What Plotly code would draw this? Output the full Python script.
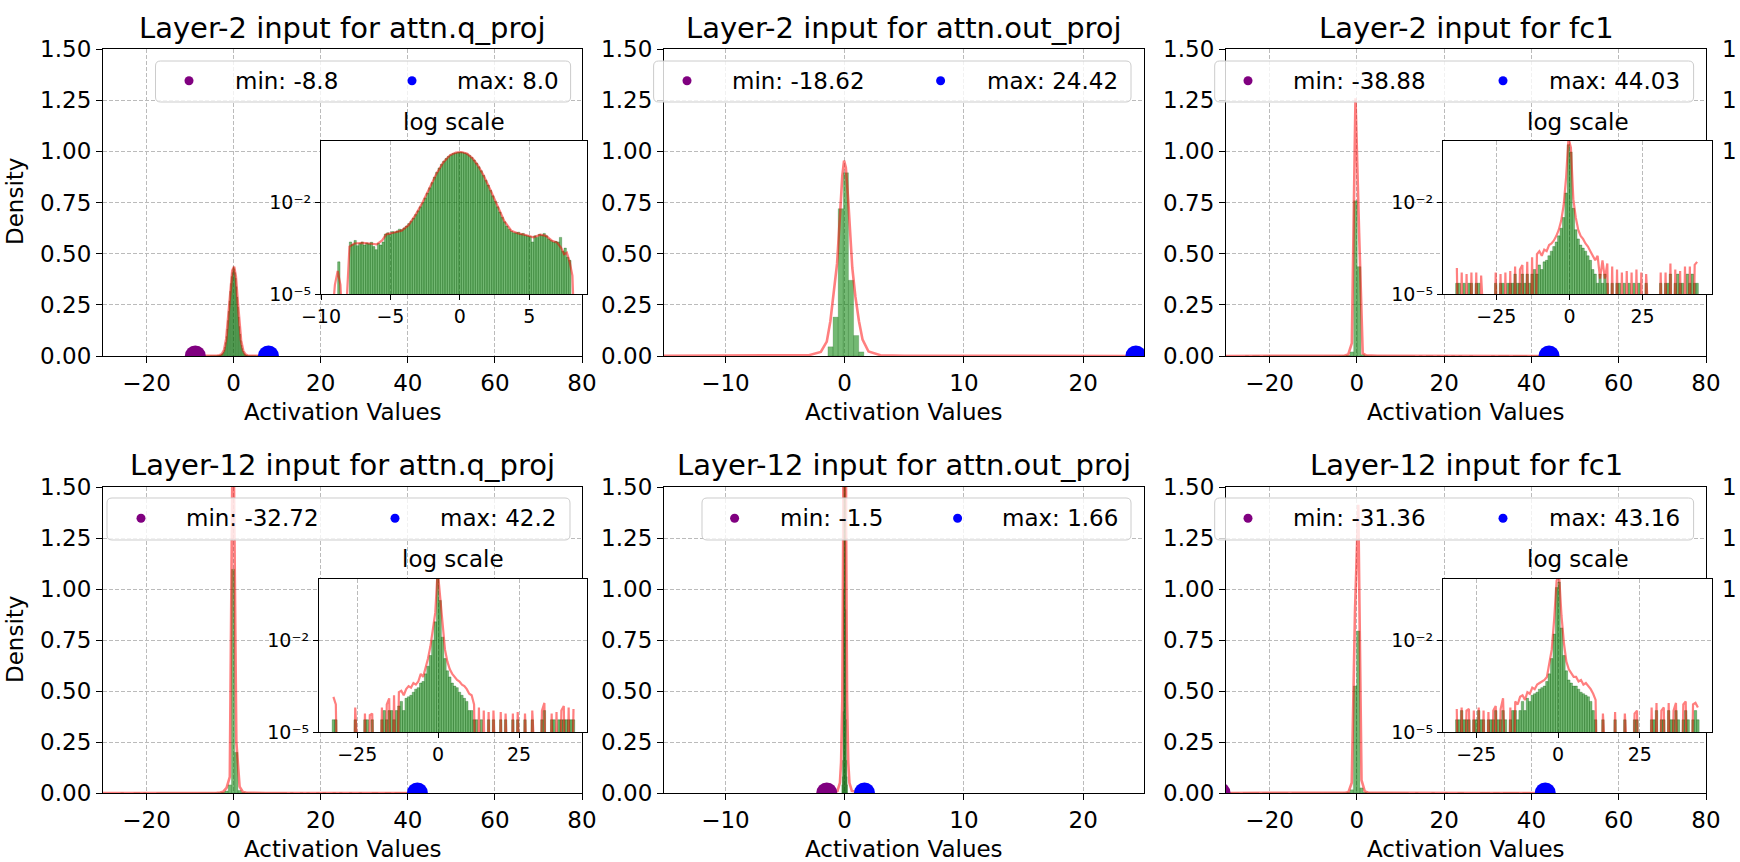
import numpy as np
import plotly.graph_objects as go

W, H = 1740, 862
FONT = "DejaVu Sans"

# ---------------- data ----------------
titles = ["Layer-2 input for attn.q_proj", "Layer-2 input for attn.out_proj", "Layer-2 input for fc1",
          "Layer-12 input for attn.q_proj", "Layer-12 input for attn.out_proj", "Layer-12 input for fc1"]
act_min = [-8.8, -18.62, -38.88, -32.72, -1.5, -31.36]
act_max = [8.0, 24.42, 44.03, 42.2, 1.66, 43.16]
N_BINS = 100

x_label = "Activation Values"
y_label = "Density"
inset_title = "log scale"
main_yticks = [0, 0.25, 0.5, 0.75, 1.0, 1.25, 1.5]
xticks_wide = [-20, 0, 20, 40, 60, 80]
xticks_narrow = [-10, 0, 10, 20]
inset_yticks = [1e-5, 1e-2]
inset_ytick_text = ["10\u207b\u2075", "10\u207b\u00b2"]
inset_xticks_q2 = [-10, -5, 0, 5]
inset_xticks_wide = [-25, 0, 25]

# histogram densities (log10), one per bin (None = empty bin)
q2_hist_log = [
    -3.95, None, None, None, None, -3.30, -3.38, -3.25, -3.42, -3.35,
    -3.30, -3.40, -3.33, -3.36, -3.31, -3.45, -3.55, -3.35, -3.40, -3.30,
    -3.04, -3.00, -3.05, -2.96, -2.98, -2.94, -2.88, -2.90, -2.84, -2.78,
    -2.70, -2.62, -2.52, -2.40, -2.28, -2.15, -2.01, -1.86, -1.70, -1.53,
    -1.36, -1.18, -1.02, -0.88, -0.76, -0.66, -0.57, -0.50, -0.45, -0.41,
    -0.39, -0.37, -0.36, -0.37, -0.39, -0.42, -0.47, -0.54, -0.62, -0.72,
    -0.84, -0.97, -1.12, -1.28, -1.44, -1.61, -1.79, -1.97, -2.15, -2.32,
    -2.49, -2.64, -2.78, -2.88, -2.95, -3.00, -3.00, -2.98, -3.04, -3.02,
    -3.08, -3.10, -3.12, -3.30, -3.10, -3.15, -3.05, -3.08, -3.02, -3.10,
    -3.20, -3.25, -3.30, -3.28, -3.30, -3.15, -3.60, -3.50, -3.80, -3.90]

fc2_hist_log = [
    -4.65, -4.65, None, -4.65, None, -4.65, -4.65, None, -4.65, -4.65,
    None, None, None, None, None, None, -4.65, None, -4.65, -4.65,
    None, -4.65, -4.65, -4.65, -4.35, -4.65, -4.65, -4.35, -4.65, -4.35,
    -4.65, -4.35, -4.20, -4.35, -4.05, -4.20, -3.95, -3.90, -3.75, -3.60,
    -3.45, -3.30, -3.10, -2.85, -2.50, -1.70, -0.12, -0.36, -2.20, -2.90,
    -3.20, -3.40, -3.50, -3.60, -3.75, -3.90, -4.20, -4.35, -4.65, -4.35,
    -4.65, -4.35, -4.65, None, -4.65, None, -4.65, -4.65, None, -4.65,
    None, -4.65, None, -4.65, None, -4.65, None, None, -4.65, None,
    None, None, None, None, -4.65, None, -4.65, -4.65, -4.35, None,
    -4.65, -4.35, -4.65, -4.65, None, -4.35, -4.65, -4.35, -4.65, -4.65]

q12_hist_log = [
    -4.6, -4.6, None, None, None, None, None, None, None, -4.6,
    None, None, None, -4.6, -4.6, None, -4.6, None, None, None,
    -4.6, -4.3, -4.6, -4.3, -4.3, -4.6, -4.3, -4.15, -4.0, -4.3,
    -3.9, -3.85, -3.8, -3.7, -3.6, -3.55, -3.4, -3.35, -3.1, -2.85,
    -2.5, -2.0, -1.4, 0.04, -0.7, -1.9, -2.6, -3.0, -3.2, -3.4,
    -3.5, -3.55, -3.7, -3.8, -3.9, -4.0, -4.3, -4.3, -4.6, -4.6,
    None, -4.6, None, None, -4.6, None, -4.6, None, None, -4.6,
    None, -4.6, None, None, -4.6, None, -4.6, None, None, -4.6,
    None, None, -4.6, None, None, None, -4.6, -4.3, None, None,
    -4.6, -4.6, None, -4.6, -4.6, -4.6, -4.6, -4.6, -4.6, -4.6]

fc12_hist_log = [
    -4.6, -4.6, -4.3, -4.6, -4.6, -4.6, None, -4.6, -4.6, -4.3,
    -4.6, -4.6, None, -4.6, -4.6, -4.6, -4.3, -4.6, -4.6, -4.3,
    -4.6, None, -4.6, -4.3, -4.3, -4.6, -4.3, -4.0, -4.3, -3.9,
    -4.0, -3.8, -3.75, -3.7, -3.6, -3.55, -3.5, -3.35, -3.1, -2.6,
    -1.8, -0.28, -0.1, -1.6, -2.5, -3.0, -3.3, -3.4, -3.5, -3.5,
    -3.6, -3.7, -3.75, -3.8, -3.85, -4.0, -4.3, -4.6, None, None,
    -4.6, None, None, None, None, -4.6, None, None, None, -4.6,
    None, None, None, -4.6, -4.6, None, None, None, None, None,
    -4.6, -4.6, -4.3, None, -4.6, -4.6, None, -4.3, -4.6, -4.6,
    -4.3, -4.6, None, -4.6, -4.3, -4.6, None, -4.6, -4.3, -4.6]

# panels without inset: only the visible central bins (linear density)
out2_first_bin = 40
out2_hist = [0.045, 0.19, 0.72, 0.895, 0.37, 0.10, 0.02]
out12_first_bin = 40
out12_hist = [0.04, 0.08, 0.16, 0.4, 1.0, 2.8, 6.5, 11.0, 6.0, 2.6, 0.9, 0.36, 0.16, 0.08, 0.04]

# KDE curves
q2_kde_x = [-9.4, -9.0, -8.8, -8.6, -8.35, -8.1, -7.95, -7.6, -7.0, -6.5, -6.0, -5.6, -5.3, -4.8, -4.2,
            -3.7, -3.2, -2.7, -2.2, -1.7, -1.2, -0.7, -0.3, 0.1, 0.5, 0.9, 1.3, 1.7, 2.2, 2.7,
            3.2, 3.7, 4.2, 4.8, 5.3, 5.8, 6.2, 6.6, 7.0, 7.3, 7.5, 7.7, 7.9, 8.1, 8.3]
q2_kde_log = [-7, -4.7, -4.25, -4.7, -7, -4.5, -3.45, -3.35, -3.33, -3.35, -3.38, -3.25, -3.05, -3.0, -2.93,
              -2.75, -2.42, -2.02, -1.55, -1.08, -0.7, -0.46, -0.38, -0.36, -0.41, -0.56, -0.8, -1.12, -1.6, -2.12,
              -2.62, -2.93, -3.02, -3.08, -3.15, -3.06, -3.1, -3.25, -3.32, -3.5, -3.7, -3.65, -3.95, -4.4, -7]

out2_kde_x = [-18.62, -5, -3, -2, -1.5, -1.2, -0.9, -0.64, -0.4, -0.2, -0.05, 0.1, 0.3, 0.64, 0.9, 1.2, 1.5, 2, 3, 5, 24.42]
out2_kde_y = [0.0, 0.001, 0.004, 0.02, 0.07, 0.17, 0.31, 0.45, 0.68, 0.88, 0.955, 0.92, 0.76, 0.43, 0.29, 0.17,
              0.08, 0.022, 0.004, 0.001, 0.0]

out12_kde_x = [-1.5, -0.6, -0.4, -0.3, -0.2, -0.12, -0.06, 0.0, 0.06, 0.12, 0.2, 0.3, 0.4, 0.6, 1.66]
out12_kde_y = [0.0, 0.01, 0.05, 0.15, 0.45, 1.3, 3.0, 4.2, 3.0, 1.3, 0.45, 0.15, 0.05, 0.01, 0.0]

# spiky KDEs sampled at the bin centres (log10; -9 = far below the axis)
fc2_kde_log = [
    -4.15, -9, -4.3, -9, -4.35, -9, -4.3, -9, -4.3, -9,
    -4.4, -9, -9, -9, -9, -9, -4.3, -9, -4.35, -9,
    -4.3, -9, -4.25, -9, -4.1, -9, -4.2, -4.05, -9, -3.95,
    -9, -3.8, -9, -3.7, -3.6, -3.75, -3.55, -3.6, -3.4, -3.35,
    -3.25, -3.1, -2.9, -2.6, -2.1, -1.2, 0.1, -0.22, -1.9, -2.5,
    -2.9, -3.1, -3.2, -3.35, -3.45, -3.6, -3.75, -3.9, -3.75, -4.5,
    -3.9, -4.5, -4.0, -9, -4.1, -9, -4.2, -9, -4.3, -9,
    -4.25, -9, -4.3, -9, -4.2, -9, -4.3, -9, -4.35, -9,
    -9, -9, -9, -9, -4.3, -9, -4.3, -9, -4.0, -9,
    -4.2, -9, -4.25, -9, -4.1, -9, -4.1, -9, -4.05, -3.95]

q12_kde_log = [
    -3.85, -4.1, -9, -9, -9, -9, -9, -9, -9, -4.2,
    -9, -9, -9, -4.4, -9, -4.45, -4.4, -9, -9, -9,
    -4.2, -9, -4.1, -3.9, -9, -3.8, -9, -3.7, -3.65, -3.8,
    -3.6, -3.5, -3.55, -3.4, -3.45, -3.35, -3.1, -3.2, -2.9, -2.6,
    -2.2, -1.6, -1.1, 0.3, -0.6, -1.5, -2.3, -2.7, -2.95, -3.1,
    -3.2, -3.3, -3.35, -3.45, -3.5, -3.6, -3.75, -3.8, -4.1, -9,
    -4.2, -9, -4.3, -9, -4.35, -9, -4.3, -9, -9, -4.35,
    -9, -4.4, -9, -9, -4.4, -9, -4.35, -9, -9, -4.4,
    -9, -9, -4.3, -9, -9, -9, -4.3, -4.05, -9, -9,
    -4.4, -9, -4.35, -9, -4.3, -4.15, -9, -4.2, -9, -4.25]

fc12_kde_log = [
    -4.25, -9, -4.2, -9, -4.3, -4.25, -9, -4.3, -9, -4.2,
    -9, -4.3, -9, -4.35, -9, -4.3, -4.15, -9, -4.25, -3.9,
    -9, -9, -4.2, -9, -4.0, -4.1, -3.85, -3.8, -3.95, -3.7,
    -3.75, -3.55, -3.6, -3.45, -3.4, -3.35, -3.3, -3.2, -2.8, -2.3,
    -1.3, -0.05, 0.15, -1.2, -2.1, -2.7, -2.95, -3.1, -3.2, -3.2,
    -3.35, -3.3, -3.45, -3.4, -3.5, -3.6, -3.75, -3.95, -9, -9,
    -4.4, -9, -9, -9, -9, -4.35, -9, -9, -9, -4.4,
    -9, -9, -9, -4.4, -4.3, -9, -9, -9, -9, -9,
    -4.2, -9, -4.05, -9, -4.3, -4.2, -9, -4.05, -9, -4.3,
    -4.05, -9, -9, -4.1, -4.0, -9, -9, -4.1, -4.05, -4.2]

hist_log = {0: q2_hist_log, 2: fc2_hist_log, 3: q12_hist_log, 5: fc12_hist_log}
hist_lin = {1: (out2_first_bin, out2_hist), 4: (out12_first_bin, out12_hist)}
kde_at_bins = {2: fc2_kde_log, 3: q12_kde_log, 5: fc12_kde_log}
kde_xy = {0: (q2_kde_x, [10 ** v for v in q2_kde_log]), 1: (out2_kde_x, out2_kde_y), 4: (out12_kde_x, out12_kde_y)}

# ---------------- geometry (pixels) ----------------
main_box = [(103, 582, 49, 356), (664, 1144, 49, 356), (1226, 1706, 49, 356),
            (103, 582, 487, 793), (664, 1144, 487, 793), (1226, 1706, 487, 793)]
main_xrange = [(-30, 80), (-15.15, 25.1), (-30, 80), (-30, 80), (-15.15, 25.1), (-30, 80)]
inset_order = [0, 2, 3, 5]
inset_box = {0: (321, 587, 141, 294), 2: (1443, 1712, 141, 294), 3: (319, 587, 579, 732), 5: (1443, 1712, 579, 732)}
inset_xrange = {0: (-10, 9.15), 2: (-43.2, 48.7), 3: (-36.8, 46.0), 5: (-35.2, 47.1)}
# legend boxes (left, top, right, bottom), marker centres and text starts
legend_box = [(155.5, 61, 570.6, 102), (653.6, 61, 1131, 102), (1214.7, 61, 1693.6, 102),
              (107, 498, 570, 540), (702, 498, 1131, 540), (1214.7, 498, 1693.6, 540)]
legend_mark_x = [(189, 412), (687, 940.6), (1248, 1503), (141, 395), (734.6, 957.6), (1248, 1503)]
legend_text_x = [(233.6, 456), (731, 985.5), (1292, 1548), (185, 439.5), (778.5, 1001), (1292, 1548)]
legend_cy = [80.7, 80.7, 80.7, 518.3, 518.3, 518.3]

GREEN = "rgba(0,128,0,0.55)"
GREEN_EDGE = "rgba(0,85,0,0.6)"
RED = "rgba(255,0,0,0.5)"
GRID = "#bbbbbb"
PURPLE = "#800080"
BLUE = "#0000ff"


def px(x):
    return x / W


def py(y):
    return 1 - y / H


def sfx(n):
    return "" if n == 1 else str(n)


def rounded_rect(x0, y0, x1, y1, r):
    pts = [("M", x0 + r, y0), ("L", x1 - r, y0), ("Q", x1, y0, x1, y0 + r), ("L", x1, y1 - r),
           ("Q", x1, y1, x1 - r, y1), ("L", x0 + r, y1), ("Q", x0, y1, x0, y1 - r), ("L", x0, y0 + r),
           ("Q", x0, y0, x0 + r, y0)]
    out = []
    for p in pts:
        cmd, vals = p[0], p[1:]
        coords = []
        for k in range(0, len(vals), 2):
            coords.append(f"{px(vals[k]):.6f},{py(vals[k + 1]):.6f}")
        out.append(cmd + " ".join(coords))
    return " ".join(out) + " Z"


fig = go.Figure()
layout = dict(width=W, height=H, margin=dict(l=0, r=0, t=0, b=0), paper_bgcolor="white",
              plot_bgcolor="white", barmode="overlay", showlegend=False,
              font=dict(family=FONT, color="black", size=23))
annotations = []
shapes = []


def axis_style(size, ticklen):
    return dict(ticks="outside", ticklen=ticklen, tickwidth=1.2, tickcolor="black", showline=True,
                linecolor="black", linewidth=1.2, mirror=True, showgrid=True, gridcolor=GRID,
                griddash="4px,2px", gridwidth=1, zeroline=False, fixedrange=True, automargin=False,
                tickfont=dict(family=FONT, size=size, color="black"))


def text_ann(text, x, y, size, xanchor="center", angle=0):
    return dict(text=text, x=px(x), y=py(y), xref="paper", yref="paper", showarrow=False,
                xanchor=xanchor, yanchor="middle", textangle=angle, borderpad=0,
                font=dict(family=FONT, size=size, color="black"))


for i in range(6):
    n = i + 1
    xr, yr = "x" + sfx(n), "y" + sfx(n)
    l, r, t, b = main_box[i]
    edges = np.linspace(act_min[i], act_max[i], N_BINS + 1)
    centers = 0.5 * (edges[:-1] + edges[1:])
    bw = float(edges[1] - edges[0])

    if i in hist_log:
        hx = [float(c) for c, v in zip(centers, hist_log[i]) if v is not None]
        hy = [10 ** v for v in hist_log[i] if v is not None]
    else:
        start, vals = hist_lin[i]
        hx = [float(c) for c in centers[start:start + len(vals)]]
        hy = list(vals)
    if i in kde_at_bins:
        kx = [float(c) for c in centers]
        ky = [10 ** v for v in kde_at_bins[i]]
    else:
        kx, ky = kde_xy[i]

    # main panel
    fig.add_trace(go.Bar(x=hx, y=hy, width=bw, xaxis=xr, yaxis=yr, hoverinfo="skip",
                         marker=dict(color=GREEN, line=dict(color=GREEN_EDGE, width=0.3))))
    fig.add_trace(go.Scatter(x=kx, y=ky, mode="lines", xaxis=xr, yaxis=yr, hoverinfo="skip",
                             line=dict(color=RED, width=2.6)))
    fig.add_trace(go.Scatter(x=[act_min[i]], y=[0], mode="markers", xaxis=xr, yaxis=yr,
                             name=f"min: {act_min[i]}", cliponaxis=True, marker=dict(size=21, color=PURPLE)))
    fig.add_trace(go.Scatter(x=[act_max[i]], y=[0], mode="markers", xaxis=xr, yaxis=yr,
                             name=f"max: {act_max[i]}", cliponaxis=True, marker=dict(size=21, color=BLUE)))

    xa = axis_style(23, 6)
    xa.update(domain=[px(l), px(r)], anchor=yr, range=list(main_xrange[i]), tickmode="array",
              tickvals=xticks_narrow if i in (1, 4) else xticks_wide)
    ya = axis_style(23, 6)
    ya.update(domain=[py(b), py(t)], anchor=xr, range=[0, 1.5], tickmode="array",
              tickvals=main_yticks, tickformat=".2f")
    layout["xaxis" + sfx(n)] = xa
    layout["yaxis" + sfx(n)] = ya

    cx = (l + r) / 2
    annotations.append(text_ann(titles[i], cx, 28 if i < 3 else 465, 29))
    annotations.append(text_ann(x_label, cx, 412 if i < 3 else 849, 23))

    # legend (box, markers, labels)
    bx0, by0, bx1, by1 = legend_box[i]
    shapes.append(dict(type="path", path=rounded_rect(bx0, by0, bx1, by1, 5), xref="paper", yref="paper",
                       fillcolor="rgba(255,255,255,0.8)", line=dict(color="#cccccc", width=1), layer="above"))
    cy = legend_cy[i]
    for mx, col in zip(legend_mark_x[i], (PURPLE, BLUE)):
        shapes.append(dict(type="circle", xref="paper", yref="paper", x0=px(mx - 4.5), x1=px(mx + 4.5),
                           y0=py(cy + 4.5), y1=py(cy - 4.5), fillcolor=col, line=dict(width=0), layer="above"))
    annotations.append(text_ann(f"min: {act_min[i]}", legend_text_x[i][0], cy, 23, xanchor="left"))
    annotations.append(text_ann(f"max: {act_max[i]}", legend_text_x[i][1], cy, 23, xanchor="left"))

    # inset
    if i in inset_box:
        m = 7 + inset_order.index(i)
        ixr, iyr = "x" + sfx(m), "y" + sfx(m)
        il, ir, it, ib = inset_box[i]
        fig.add_trace(go.Bar(x=hx, y=hy, width=bw, xaxis=ixr, yaxis=iyr, hoverinfo="skip",
                             marker=dict(color=GREEN, line=dict(color=GREEN_EDGE, width=0.5))))
        fig.add_trace(go.Scatter(x=kx, y=ky, mode="lines", xaxis=ixr, yaxis=iyr, hoverinfo="skip",
                                 line=dict(color=RED, width=2.2)))
        ixa = axis_style(19, 5)
        ixa.update(domain=[px(il), px(ir)], anchor=iyr, range=list(inset_xrange[i]), tickmode="array",
                   tickvals=inset_xticks_q2 if i == 0 else inset_xticks_wide)
        iya = axis_style(19, 5)
        iya.update(domain=[py(ib), py(it)], anchor=ixr, type="log", range=[-5, 0], tickmode="array",
                   tickvals=inset_yticks, ticktext=inset_ytick_text)
        layout["xaxis" + sfx(m)] = ixa
        layout["yaxis" + sfx(m)] = iya
        annotations.append(text_ann(inset_title, (il + ir) / 2, 122 if i < 3 else 559, 23))

# y-axis titles at the left border and cut-off tick labels at the right border
for yc in (202, 640):
    annotations.append(text_ann(y_label, 15, yc, 23, angle=-90))
for yc in (49, 100, 151, 487, 538, 589):
    annotations.append(text_ann("1", 1729, yc, 23))

layout["annotations"] = annotations
layout["shapes"] = shapes
fig.update_layout(**layout)

fig.write_html("out.html", config={"displayModeBar": False},
               post_script="document.body.style.margin='0';document.body.style.overflow='hidden';")
